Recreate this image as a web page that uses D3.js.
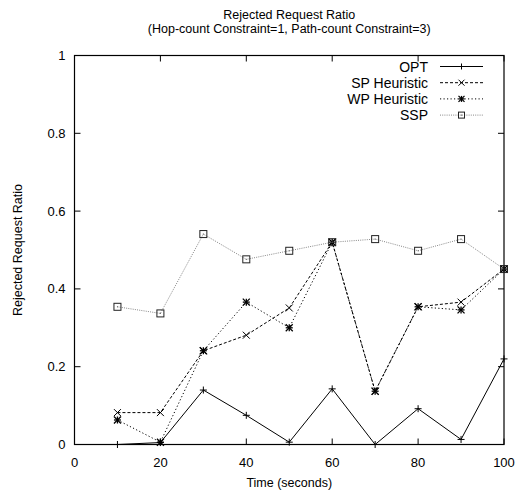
<!DOCTYPE html>
<html>
<head>
<meta charset="utf-8">
<script src="https://cdn.jsdelivr.net/npm/d3@7"></script>
<style>
body { margin: 0; background: #fff; }
text { font-family: "Liberation Sans", Arial, sans-serif; fill: #000; }
</style>
</head>
<body>
<div class="chart"></div>
<script>
var width = 519;
var height = 498;
var margin = {top: 55.5, right: 15, bottom: 53.5, left: 74.5};

var times = [10, 20, 30, 40, 50, 60, 70, 80, 90, 100];
var opt = [0.0, 0.005, 0.14, 0.075, 0.006, 0.143, 0.0, 0.092, 0.013, 0.22];
var spHeuristic = [0.082, 0.082, 0.241, 0.281, 0.351, 0.52, 0.137, 0.354, 0.366, 0.451];
var wpHeuristic = [0.063, 0.006, 0.241, 0.366, 0.30, 0.52, 0.137, 0.354, 0.346, 0.451];
var ssp = [0.354, 0.337, 0.541, 0.476, 0.498, 0.52, 0.528, 0.498, 0.528, 0.451];
var xTicks = [0, 20, 40, 60, 80, 100];
var yTicks = [0, 0.2, 0.4, 0.6, 0.8, 1];

var series = [
    {name: "OPT", values: opt, dash: null, color: "#000", marker: "plus"},
    {name: "SP Heuristic", values: spHeuristic, dash: "3,2", color: "#000", marker: "cross"},
    {name: "WP Heuristic", values: wpHeuristic, dash: "1.2,2.3", color: "#000", marker: "star"},
    {name: "SSP", values: ssp, dash: "1,1.2", color: "#888", marker: "box"}
];

var x = d3.scaleLinear().domain([0, 100]).range([margin.left, width - margin.right]);
var y = d3.scaleLinear().domain([0, 1]).range([height - margin.bottom, margin.top]);

var svg = d3.select(".chart").append("svg").attr("width", width).attr("height", height);

// frame and ticks (gnuplot style: inward, mirrored)
var tk = 6;
var g = svg.append("g").attr("stroke", "#000").attr("stroke-width", 1);
xTicks.forEach(function(t){
    g.append("line").attr("x1", x(t)).attr("x2", x(t)).attr("y1", y(0)).attr("y2", y(0) - tk);
    g.append("line").attr("x1", x(t)).attr("x2", x(t)).attr("y1", y(1)).attr("y2", y(1) + tk);
});
yTicks.forEach(function(t){
    g.append("line").attr("x1", x(0)).attr("x2", x(0) + tk).attr("y1", y(t)).attr("y2", y(t));
    g.append("line").attr("x1", x(100)).attr("x2", x(100) - tk).attr("y1", y(t)).attr("y2", y(t));
});
svg.append("rect")
    .attr("x", x(0)).attr("y", y(1))
    .attr("width", x(100) - x(0)).attr("height", y(0) - y(1))
    .attr("fill", "none").attr("stroke", "#000").attr("stroke-width", 1.2);

svg.selectAll(".xt").data(xTicks).enter().append("text")
    .attr("x", function(d){ return x(d); })
    .attr("y", y(0) + 22)
    .attr("text-anchor", "middle")
    .style("font-size", "13px")
    .text(function(d){ return d; });
svg.selectAll(".yt").data(yTicks).enter().append("text")
    .attr("x", x(0) - 9)
    .attr("y", function(d){ return y(d) + 4.5; })
    .attr("text-anchor", "end")
    .style("font-size", "13px")
    .text(function(d){ return d; });

// titles
var cx = (x(0) + x(100)) / 2;
svg.append("text").attr("x", cx).attr("y", 19).attr("text-anchor", "middle")
    .style("font-size", "12.5px").text("Rejected Request Ratio");
svg.append("text").attr("x", cx).attr("y", 33).attr("text-anchor", "middle")
    .style("font-size", "12.5px").text("(Hop-count Constraint=1, Path-count Constraint=3)");
svg.append("text").attr("x", cx).attr("y", 487).attr("text-anchor", "middle")
    .style("font-size", "12.5px").text("Time (seconds)");
svg.append("text")
    .attr("transform", "translate(22," + ((y(0) + y(1)) / 2) + ") rotate(-90)")
    .attr("text-anchor", "middle")
    .style("font-size", "12.5px").text("Rejected Request Ratio");

function drawMarker(sel, type, color, s){
    if (type === "plus" || type === "star") {
        sel.append("line").attr("x1", -s).attr("x2", s).attr("y1", 0).attr("y2", 0);
        sel.append("line").attr("x1", 0).attr("x2", 0).attr("y1", -s).attr("y2", s);
    }
    if (type === "cross" || type === "star") {
        sel.append("line").attr("x1", -s).attr("x2", s).attr("y1", -s).attr("y2", s);
        sel.append("line").attr("x1", -s).attr("x2", s).attr("y1", s).attr("y2", -s);
    }
    if (type === "box") {
        sel.append("rect").attr("x", -s).attr("y", -s).attr("width", 2 * s).attr("height", 2 * s)
            .attr("fill", "none");
        sel.append("rect").attr("x", -0.5).attr("y", -0.5).attr("width", 1).attr("height", 1)
            .attr("fill", "#555").attr("stroke", "none");
    }
    sel.attr("stroke", type === "box" ? "#222" : color)
        .attr("stroke-width", type === "star" ? 1.3 : 1);
}

var line = d3.line()
    .x(function(d, i){ return x(times[i]); })
    .y(function(d){ return y(d); });

series.forEach(function(s){
    svg.append("path")
        .attr("d", line(s.values))
        .attr("fill", "none")
        .attr("stroke", s.color)
        .attr("stroke-width", 1)
        .attr("stroke-dasharray", s.dash);
    s.values.forEach(function(v, i){
        var m = svg.append("g").attr("transform", "translate(" + x(times[i]) + "," + y(v) + ")");
        drawMarker(m, s.marker, s.color, 3.5);
    });
});

// legend
series.forEach(function(s, i){
    var ly = 66.5 + i * 16.2;
    svg.append("text").attr("x", 428).attr("y", ly + 5).attr("text-anchor", "end")
        .style("font-size", "14px").text(s.name);
    svg.append("line").attr("x1", 440).attr("x2", 483).attr("y1", ly).attr("y2", ly)
        .attr("stroke", s.color).attr("stroke-width", 1).attr("stroke-dasharray", s.dash);
    var m = svg.append("g").attr("transform", "translate(461.5," + ly + ")");
    drawMarker(m, s.marker, s.color, 3);
});
</script>
</body>
</html>
